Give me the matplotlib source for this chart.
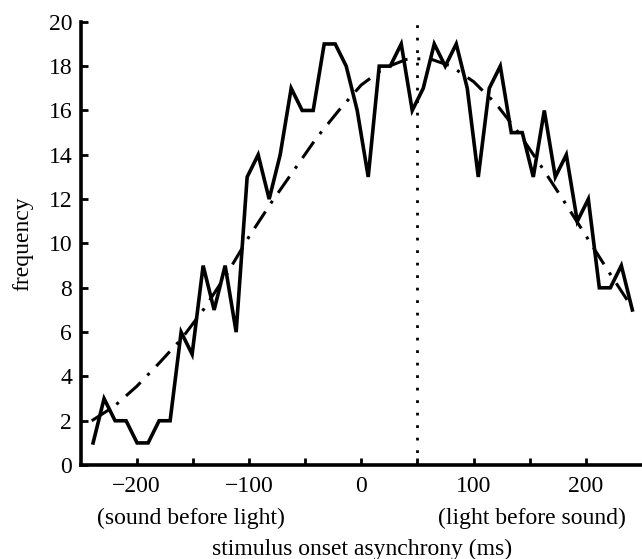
import matplotlib
matplotlib.use("Agg")
import matplotlib.pyplot as plt
import numpy as np

plt.rcParams['font.family'] = ['Liberation Serif', 'DejaVu Serif']

# histogram of asynchronies (50 bins, ~9.8 ms wide)
bin_start = -238.8
bin_width = 9.8
counts = [1, 3, 2, 2, 1, 1, 2, 2, 6, 5,
          9, 7, 9, 6, 13, 14, 12, 14, 17, 16,
          16, 19, 19, 18, 16, 13, 18, 18, 19, 16,
          17, 19, 18, 19, 17, 13, 17, 18, 15, 15,
          13, 16, 13, 14, 11, 12, 8, 8, 9, 7]

# fitted curve
fit_x = [-240, -220, -200, -180, -160, -140, -120, -100, -80, -60, -40, -20, 0,
         20, 40, 60, 80, 100, 120, 140, 160, 180, 200, 220, 240]
fit_y = [2.0, 2.65, 3.55, 4.6, 5.7, 7.05, 8.6, 10.3, 11.85, 13.3, 14.75, 16.0, 17.15,
         17.9, 18.3, 18.35, 18.0, 17.3, 16.3, 15.0, 13.5, 11.95, 10.35, 8.75, 7.2]

pss = 50  # dotted marker line

xs = bin_start + bin_width * np.arange(len(counts))

fig = plt.figure(figsize=(6.42, 5.59), dpi=100)
ax = fig.add_axes([0.1254, 0.168, 0.8746, 0.793])

ax.plot(xs, counts, color='black', lw=2.6, solid_joinstyle='miter')
ax.plot(fit_x, fit_y, color='black', lw=2.2, dashes=(6.5, 3.2, 1, 3.2))
ax.plot([pss, pss], [0, 20], color='black', lw=2.0, linestyle=(0, (1, 3.5)))

ax.set_xlim(-250, 250)
ax.set_ylim(0, 20)
ax.set_xticks(np.arange(-200, 201, 50))
ax.set_xticklabels(['\u2212200', '', '\u2212100', '', '0', '', '100', '', '200'])
ax.set_yticks(np.arange(0, 21, 2))

for s in ['top', 'right']:
    ax.spines[s].set_visible(False)
for s in ['left', 'bottom']:
    ax.spines[s].set_linewidth(2.6)
ax.tick_params(direction='in', length=5, width=2, labelsize=17)
ax.tick_params(axis='x', pad=8)
ax.tick_params(axis='y', pad=6)

ax.set_ylabel('frequency', fontsize=17, labelpad=11)
tr = ax.get_xaxis_transform()
ax.text(-152, -0.12, '(sound before light)', transform=tr,
        ha='center', va='center', fontsize=17)
ax.text(152, -0.12, '(light before sound)', transform=tr,
        ha='center', va='center', fontsize=17)
ax.text(1, -0.203, 'stimulus onset asynchrony (ms)', transform=tr,
        ha='center', va='baseline', fontsize=17)

fig.savefig('out.png', dpi=100)
